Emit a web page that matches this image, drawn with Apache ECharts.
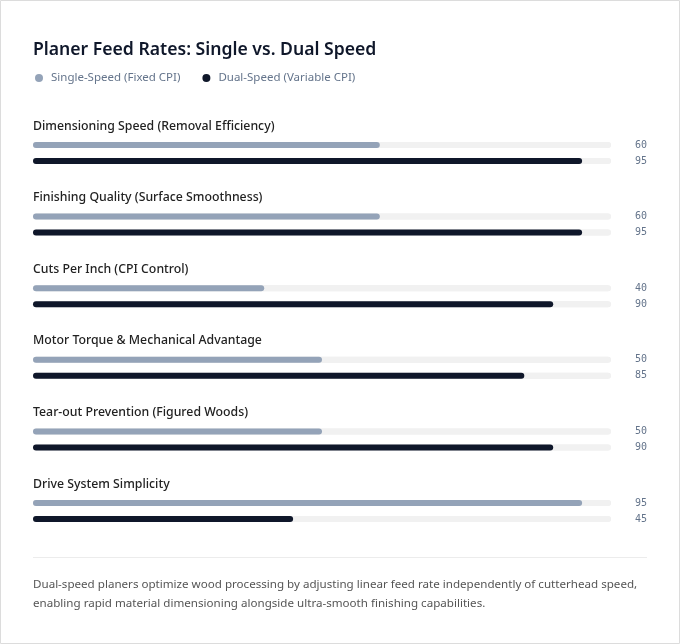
<!DOCTYPE html>
<html>
<head>
<meta charset="utf-8">
<script src="https://cdn.jsdelivr.net/npm/echarts@6/dist/echarts.min.js"></script>
<style>
  body { margin: 0; background: #fff; }
  #main { width: 680px; height: 644px; }
</style>
</head>
<body>
<div id="main"></div>
<script>
const categories = [
  'Dimensioning Speed (Removal Efficiency)',
  'Finishing Quality (Surface Smoothness)',
  'Cuts Per Inch (CPI Control)',
  'Motor Torque & Mechanical Advantage',
  'Tear-out Prevention (Figured Woods)',
  'Drive System Simplicity'
]
const seriesNames = ['Single-Speed (Fixed CPI)', 'Dual-Speed (Variable CPI)']
const singleSpeed = [60, 60, 40, 50, 50, 95]
const dualSpeed = [95, 95, 90, 85, 90, 45]
const footnote = 'Dual-speed planers optimize wood processing by adjusting linear feed rate independently of cutterhead speed,\nenabling rapid material dimensioning alongside ultra-smooth finishing capabilities.'

const font = '"Segoe UI", "Noto Sans", "Open Sans", sans-serif'
const colors = ['#94a3b8', '#0f172a']
const step = 71.6

let myChart = echarts.init(document.getElementById('main'))

let grids = []
let xAxes = []
let yAxes = []
let series = []
let graphics = [
  {
    type: 'rect',
    shape: { x: 0.5, y: 0.5, width: 679, height: 643 },
    style: { fill: 'none', stroke: '#dcdcdc', lineWidth: 1 },
    silent: true
  },
  {
    type: 'line',
    shape: { x1: 33, y1: 557.5, x2: 647, y2: 557.5 },
    style: { stroke: '#ececec', lineWidth: 1 },
    silent: true
  },
  {
    type: 'text',
    x: 33,
    y: 575,
    style: { text: footnote, fill: '#555', font: '11.6px ' + font, lineHeight: 19 },
    silent: true
  }
]

for (let i = 0; i < categories.length; i++) {
  grids.push({ left: 33, width: 578, top: 137 + i * step, height: 32 })
  xAxes.push({ gridIndex: i, type: 'value', min: 0, max: 100, show: false })
  yAxes.push({
    gridIndex: i,
    type: 'category',
    data: ['single', 'dual'],
    inverse: true,
    show: false
  })
  // value labels sit at a fixed column on the right
  yAxes.push({
    gridIndex: i,
    type: 'category',
    data: [String(singleSpeed[i]), String(dualSpeed[i])],
    inverse: true,
    position: 'right',
    axisLine: { show: false },
    axisTick: { show: false },
    axisLabel: { margin: 24, color: '#64748b', fontSize: 10, fontFamily: '"DejaVu Sans Mono", monospace', padding: [2, 0, 0, 0] }
  })
  let common = {
    type: 'bar',
    xAxisIndex: i,
    yAxisIndex: i * 2,
    barWidth: 6,
    barGap: '-100%',
    showBackground: true,
    backgroundStyle: { color: '#f1f1f1', borderRadius: 3 },
    silent: true
  }
  series.push(Object.assign({}, common, {
    name: seriesNames[0],
    data: [singleSpeed[i], '-'],
    itemStyle: { color: colors[0], borderRadius: 3 }
  }))
  series.push(Object.assign({}, common, {
    name: seriesNames[1],
    data: ['-', dualSpeed[i]],
    itemStyle: { color: colors[1], borderRadius: 3 }
  }))
  graphics.push({
    type: 'text',
    x: 33,
    y: 126 + i * step,
    style: {
      text: categories[i],
      fill: '#222',
      font: '500 12.3px ' + font,
      verticalAlign: 'middle'
    },
    silent: true
  })
}

myChart.setOption({
  animation: false,
  color: colors,
  title: {
    text: 'Planer Feed Rates: Single vs. Dual Speed',
    left: 28,
    top: 36,
    textStyle: { fontSize: 17.6, fontWeight: 600, color: '#0f172a', fontFamily: font }
  },
  legend: {
    data: seriesNames,
    left: 30,
    top: 67,
    icon: 'circle',
    itemWidth: 14,
    itemHeight: 8,
    itemGap: 22,
    selectedMode: false,
    textStyle: { color: '#64748b', fontSize: 11.5, fontFamily: font }
  },
  grid: grids,
  xAxis: xAxes,
  yAxis: yAxes,
  series: series,
  graphic: graphics
})
</script>
</body>
</html>
